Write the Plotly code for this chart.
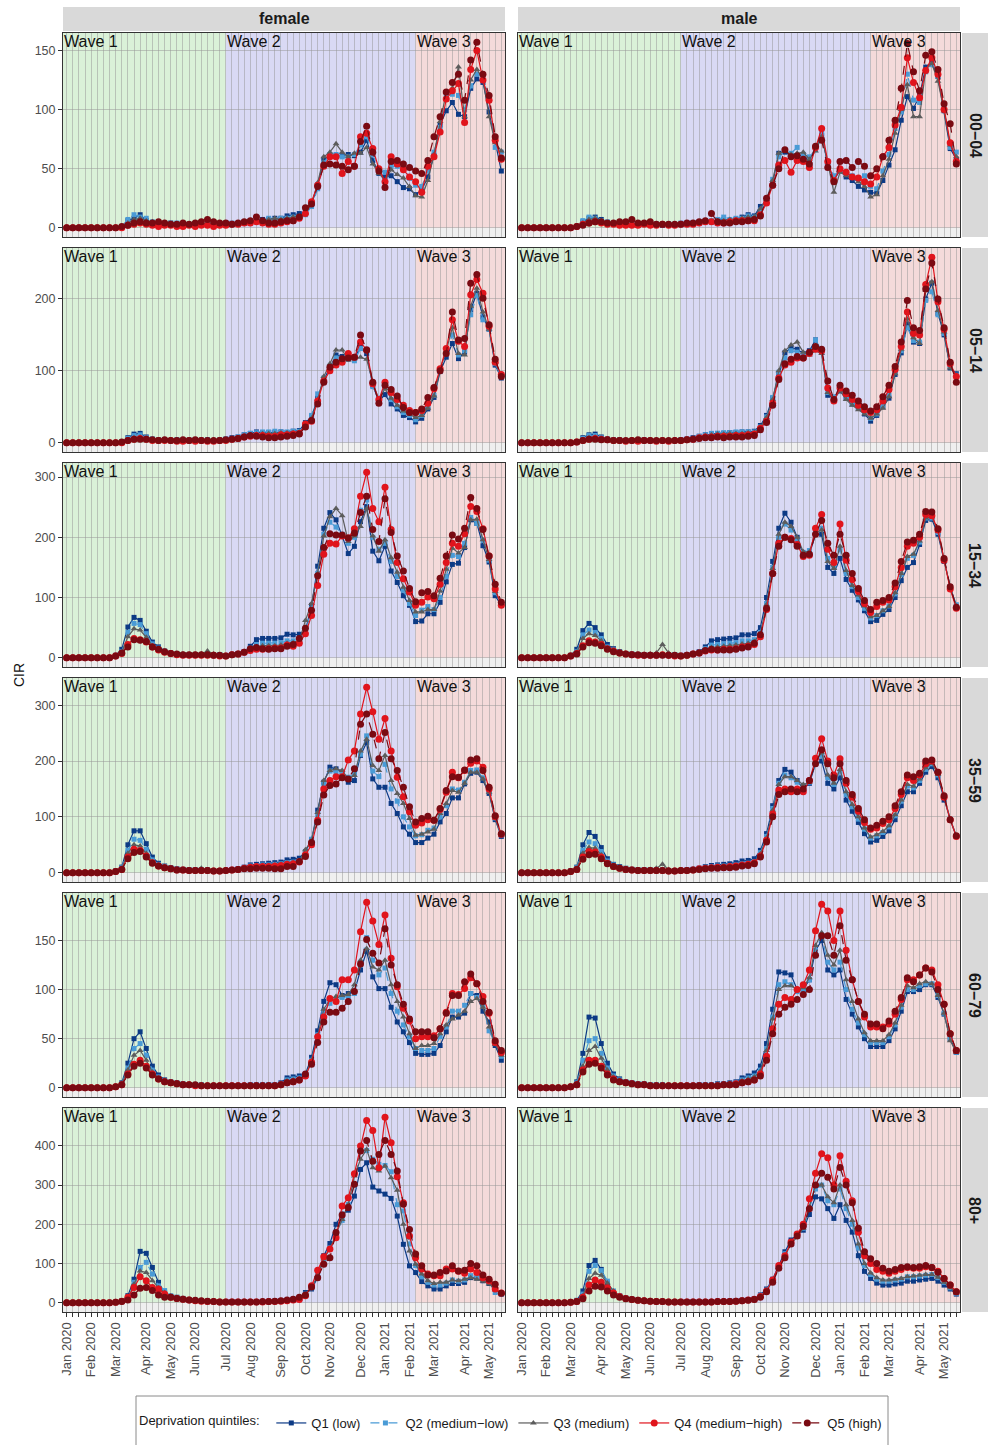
import pandas as pd
import plotly.graph_objects as go

W, H = 990, 1445

# ---------------- categories ----------------
weeks = pd.date_range("2020-01-06", periods=72, freq="7D")
sexes = ["female", "male"]
age_groups = ["00−04", "05−14", "15−34", "35−59", "60−79", "80+"]
quintiles = ["Q1 (low)", "Q2 (medium−low)", "Q3 (medium)", "Q4 (medium−high)", "Q5 (high)"]
wave_labels = ["Wave 1", "Wave 2", "Wave 3"]
wave_starts = ["2020-07-06", "2021-02-08"]
y_dticks = [50, 100, 100, 100, 50, 100]

# ---------------- values (CIR per week) ----------------
# female 00-04
f0004_q1 = [0,0,0,0,0,0,0,0,0,1,6,8, 11,6,4,3,3,4,3,3,2,3,4,3, 3,3,4,3,3,4,5,6,7,7,8,8, 10,11,12,13,20,36,58,61,61,61,62,61, 64,74,57,46,43,44,39,34,33,28,32,43, 61,87,99,106,96,94,118,126,123,98,74,48]
f0004_q2 = [0,0,0,0,0,0,0,0,0,1,7,11, 9,8,5,4,3,3,4,2,3,3,3,4, 4,3,3,4,3,5,6,7,6,8,7,8, 8,9,9,11,18,33,55,62,62,60,60,62, 70,77,62,48,47,52,52,51,42,36,35,48, 64,85,112,113,112,100,120,130,128,108,68,64]
f0004_q3 = [0,0,0,0,0,0,0,0,0,1,4,7, 8,6,5,3,4,3,3,3,2,4,3,3, 3,3,4,3,4,3,5,5,6,7,8,7, 8,9,10,12,20,38,60,64,71,64,60,63, 63,68,54,46,40,49,45,42,35,27,26,40, 62,90,115,118,136,94,125,134,126,94,72,65]
f0004_q4 = [0,0,0,0,0,0,0,0,0,0,2,3, 4,3,2,1,2,2,1,1,2,1,2,2, 1,2,2,3,3,4,4,5,4,3,3,4, 5,6,8,12,22,36,52,60,60,46,56,52, 77,80,67,50,39,60,54,49,43,39,30,52, 60,81,109,116,122,89,134,150,125,108,74,58]
f0004_q5 = [0,0,0,0,0,0,0,0,0,1,2,4, 5,4,4,5,4,3,3,4,3,4,5,7, 5,4,4,3,4,5,6,9,6,4,4,5, 6,6,9,17,20,35,53,54,53,52,49,52, 73,86,64,48,34,56,57,54,51,48,46,57, 77,94,115,123,130,108,142,157,130,112,77,59]
# male 00-04
m0004_q1 = [0,0,0,0,0,0,0,0,0,1,5,8, 9,7,4,3,3,3,3,2,3,3,3,2, 3,2,3,3,4,4,5,5,6,7,6,7, 9,11,10,18,23,38,63,64,61,61,61,57, 68,78,54,40,49,43,40,35,32,30,29,40, 53,66,91,111,101,112,136,140,128,99,67,58]
m0004_q2 = [0,0,0,0,0,0,0,0,0,1,6,9, 8,6,5,4,3,3,4,3,3,4,3,3, 3,3,4,4,4,5,5,6,7,9,7,8, 8,10,9,15,22,41,60,66,63,68,62,60, 66,80,56,44,48,47,44,42,44,35,33,48, 62,84,98,130,108,106,132,138,128,104,68,64]
m0004_q3 = [0,0,0,0,0,0,0,0,0,1,4,7, 8,6,4,3,3,3,3,3,2,3,3,3, 3,3,3,4,4,4,5,5,6,6,7,7, 8,9,9,16,24,40,63,65,62,63,64,58, 65,77,55,30,47,44,42,39,35,26,28,44, 58,80,100,121,94,94,134,139,124,99,70,60]
m0004_q4 = [0,0,0,0,0,0,0,0,0,1,3,4, 5,4,3,3,2,2,2,2,3,2,2,3, 2,2,3,3,3,4,5,5,4,4,5,6, 6,6,6,11,21,36,53,57,47,57,56,51, 68,84,56,40,50,47,43,42,39,37,43,60, 68,87,102,144,123,110,133,144,130,100,72,56]
m0004_q5 = [0,0,0,0,0,0,0,0,0,1,2,4, 5,5,4,4,5,5,7,4,4,5,3,3, 3,3,3,4,4,5,6,12,5,4,4,5, 5,6,7,10,25,36,50,66,60,61,58,54, 69,74,51,39,56,57,51,56,52,44,50,60, 74,91,118,156,132,116,146,149,134,105,88,54]
# female 05-14
f0514_q1 = [0,0,0,0,0,0,0,0,0,1,7,12, 13,8,5,4,4,3,4,3,3,4,3,4, 3,4,5,7,8,11,13,15,14,14,14,15, 14,16,17,28,36,62,88,104,122,120,117,118, 133,124,80,58,67,54,47,38,35,29,34,47, 63,99,119,138,117,126,185,208,175,158,108,90]
f0514_q2 = [0,0,0,0,0,0,0,0,0,1,6,10, 11,7,5,4,4,3,3,3,4,3,4,3, 3,3,5,6,8,11,13,14,15,15,16,15, 15,16,16,24,38,68,90,106,118,116,116,114, 131,130,78,62,78,60,50,42,38,32,38,50, 66,100,124,150,122,128,178,205,171,158,110,92]
f0514_q3 = [0,0,0,0,0,0,0,0,0,1,4,7, 8,6,4,3,3,3,3,3,2,3,4,3, 3,4,4,6,7,9,11,12,13,13,13,14, 14,14,15,22,34,60,92,110,129,129,115,117, 119,116,84,60,75,62,52,44,40,35,38,48, 65,102,128,160,124,122,190,215,182,158,112,94]
f0514_q4 = [0,0,0,0,0,0,0,0,0,0,3,5, 6,5,3,3,3,3,2,2,3,2,3,2, 2,3,3,5,6,8,9,10,10,9,9,11, 11,12,13,26,30,58,86,100,108,112,124,119, 140,129,82,60,84,70,60,52,45,42,45,55, 75,103,131,171,141,134,206,227,208,162,112,95]
f0514_q5 = [0,0,0,0,0,0,0,0,0,1,3,5, 5,5,4,3,4,3,3,4,3,4,3,3, 3,3,4,5,6,8,10,9,8,7,7,8, 9,10,12,22,31,54,84,105,112,117,118,119, 150,129,84,55,80,74,65,49,42,42,47,63, 77,100,124,182,143,145,222,234,201,164,116,92]
# male 05-14
m0514_q1 = [0,0,0,0,0,0,0,0,0,1,7,11, 12,8,5,4,4,3,3,3,4,3,3,3, 3,3,4,5,7,9,11,12,13,13,14,14, 15,15,16,24,38,62,95,125,132,130,124,128, 143,126,66,62,72,62,54,48,40,30,38,50, 62,95,125,165,140,138,200,222,180,150,104,96]
m0514_q2 = [0,0,0,0,0,0,0,0,0,1,6,10, 10,7,5,4,3,3,3,3,3,3,3,3, 3,3,4,5,6,9,11,13,13,14,14,15, 15,15,15,22,36,63,98,118,128,126,122,125, 143,128,70,64,74,64,55,48,42,34,40,52, 66,98,128,160,142,140,198,210,178,152,106,94]
m0514_q3 = [0,0,0,0,0,0,0,0,0,1,4,7, 8,6,4,3,3,3,3,3,2,3,3,3, 3,3,3,4,6,8,10,11,12,12,13,13, 13,14,14,22,35,60,100,128,136,140,126,122, 128,124,70,60,72,60,52,46,40,34,40,48, 64,96,130,172,146,138,212,224,184,154,104,94]
m0514_q4 = [0,0,0,0,0,0,0,0,0,1,3,5, 6,5,4,3,3,2,3,2,3,3,2,3, 2,3,3,4,5,7,8,8,9,9,9,10, 10,11,12,20,30,55,90,108,112,118,118,124, 130,128,76,58,76,68,60,52,46,42,46,58, 74,102,134,182,152,150,220,258,196,158,110,92]
m0514_q5 = [0,0,0,0,0,0,0,0,0,1,3,5, 5,4,4,3,3,3,3,4,3,3,3,3, 3,3,3,4,5,6,7,7,8,7,8,8, 8,9,10,18,28,52,88,110,116,120,118,126, 134,130,86,60,80,72,66,58,50,44,50,64, 80,106,140,198,160,156,214,250,200,160,112,84]
# female 15-34
f1534_q1 = [0,0,0,0,0,0,0,0,4,14,51,67, 62,44,26,18,11,8,6,5,5,5,5,5, 5,5,3,5,7,10,19,30,32,32,32,33, 39,38,39,45,87,152,215,241,229,202,173,185, 226,251,177,161,185,144,125,103,87,60,61,73, 73,92,126,155,157,183,229,223,186,159,103,87]
f1534_q2 = [0,0,0,0,0,0,0,0,3,10,42,57, 55,40,23,16,10,7,6,5,5,5,5,5, 5,5,3,5,7,10,16,22,24,24,24,25, 28,28,30,40,82,140,205,225,217,205,190,200, 245,262,200,180,190,160,135,112,90,70,79,85, 80,100,135,170,168,190,233,223,195,162,108,88]
f1534_q3 = [0,0,0,0,0,0,0,0,3,9,35,48, 46,34,20,14,9,7,6,6,5,5,6,11, 6,4,3,5,7,10,14,18,20,20,20,21, 24,25,28,62,90,140,202,234,248,236,193,202, 218,248,202,177,196,166,142,117,95,76,76,80, 80,111,147,182,174,183,229,230,196,163,110,90]
f1534_q4 = [0,0,0,0,0,0,0,0,3,7,22,32, 30,26,18,13,9,7,5,4,4,4,4,4, 4,3,3,5,6,9,12,14,14,15,16,16, 21,19,24,40,70,120,172,190,189,202,199,214, 268,308,248,226,283,213,158,131,109,87,92,101, 98,122,158,190,185,206,251,243,214,169,114,87]
f1534_q5 = [0,0,0,0,0,0,0,0,3,8,18,30, 29,27,18,14,10,7,6,5,5,5,5,5, 4,4,3,5,6,9,15,17,15,14,15,15, 19,22,32,49,79,136,183,206,204,204,199,207, 241,268,213,193,264,208,169,144,115,93,108,110, 103,132,169,204,197,215,266,248,213,169,122,92]
# male 15-34
m1534_q1 = [0,0,0,0,0,0,0,0,4,14,45,57, 50,38,22,15,10,7,6,5,5,5,5,5, 5,5,4,5,7,10,18,28,30,31,32,33, 38,38,40,50,100,160,215,240,225,200,170,172, 205,205,150,140,165,130,112,96,78,60,62,72, 80,100,128,150,158,188,228,230,205,160,118,85]
m1534_q2 = [0,0,0,0,0,0,0,0,3,10,38,46, 42,32,18,13,9,7,6,5,5,5,5,5, 5,5,3,5,7,9,15,21,22,23,24,25, 28,28,30,42,90,150,200,222,212,196,175,178, 210,215,165,150,180,140,118,100,82,66,70,78, 86,106,138,165,170,192,232,232,208,162,118,88]
m1534_q3 = [0,0,0,0,0,0,0,0,3,9,32,40, 37,28,16,12,8,7,6,5,5,6,8,22, 8,5,3,5,6,9,13,17,18,19,20,21, 23,24,27,40,88,148,205,225,218,200,176,176, 208,212,160,148,185,145,120,104,86,68,70,78, 85,108,140,168,172,194,232,234,210,160,116,86]
m1534_q4 = [0,0,0,0,0,0,0,0,3,7,20,28, 26,22,15,11,8,6,5,4,4,4,4,5, 4,3,3,4,6,8,11,13,13,14,14,15, 18,19,22,35,80,140,190,200,198,188,168,170, 215,238,180,158,222,162,130,110,90,75,85,92, 96,118,150,185,190,200,238,236,212,162,114,82]
m1534_q5 = [0,0,0,0,0,0,0,0,3,6,18,25, 24,20,14,10,8,6,5,5,4,4,4,4, 4,4,3,4,6,8,12,14,13,13,13,14, 16,18,24,38,82,140,185,200,196,185,170,172, 205,228,190,170,205,170,140,115,95,80,92,95, 100,124,160,192,195,205,243,242,214,165,118,84]
# female 35-59
f3559_q1 = [0,0,0,0,0,0,0,0,3,10,50,75, 75,52,28,17,12,9,7,6,5,5,5,5, 4,4,4,5,7,10,14,15,16,17,18,19, 23,24,26,38,59,112,162,189,186,180,162,165, 210,233,168,153,153,124,106,82,69,54,54,62, 69,91,106,134,134,159,178,180,165,142,95,65]
f3559_q2 = [0,0,0,0,0,0,0,0,3,9,40,60, 58,42,23,15,11,8,6,5,5,5,5,5, 4,4,4,5,7,9,12,13,14,14,15,16, 18,19,22,37,60,105,158,182,180,178,171,176, 212,245,182,172,194,150,128,100,82,66,68,76, 80,100,120,150,148,162,183,184,170,146,98,68]
f3559_q3 = [0,0,0,0,0,0,0,0,3,8,35,50, 48,35,20,13,10,8,6,5,5,5,8,5, 4,4,4,5,6,8,11,12,13,13,14,15, 17,18,21,41,58,108,165,183,186,183,168,174, 218,239,192,183,210,165,142,124,97,67,69,73, 78,106,124,147,144,160,180,180,168,144,98,67]
f3559_q4 = [0,0,0,0,0,0,0,0,2,6,28,42, 40,30,18,12,9,7,5,5,4,4,4,4, 3,3,4,5,6,8,10,11,11,11,12,13, 15,16,19,32,50,94,150,165,172,172,202,218, 284,332,288,239,276,218,171,136,109,85,89,95, 94,113,144,180,170,183,196,200,189,150,100,69]
f3559_q5 = [0,0,0,0,0,0,0,0,2,6,25,36, 38,28,17,12,9,7,5,5,4,4,4,4, 3,3,4,5,6,7,7,8,8,8,7,7, 11,11,20,29,54,91,139,156,159,170,168,186, 266,284,248,204,251,204,183,153,118,91,97,101, 94,115,147,172,171,184,202,204,183,153,102,70]
# male 35-59
m3559_q1 = [0,0,0,0,0,0,0,0,3,10,50,72, 65,45,25,15,11,8,6,5,5,5,5,5, 4,4,4,5,6,8,11,13,14,15,16,18, 21,22,25,40,70,120,165,185,180,165,150,160, 195,200,160,150,170,130,110,90,70,55,58,65, 75,95,120,145,145,160,180,190,170,130,95,65]
m3559_q2 = [0,0,0,0,0,0,0,0,3,9,40,55, 52,38,21,14,10,7,6,5,5,5,5,5, 4,4,4,5,6,8,10,11,12,12,13,14, 16,17,20,36,65,115,160,175,170,162,155,162, 200,210,170,158,180,140,118,96,78,62,66,72, 82,102,128,155,152,165,185,195,175,135,96,66]
m3559_q3 = [0,0,0,0,0,0,0,0,3,8,35,45, 44,32,18,12,9,7,6,5,5,6,8,15, 6,4,4,5,6,7,9,10,11,12,12,13, 15,16,19,34,62,112,158,172,172,165,158,162, 200,215,175,160,185,145,122,100,80,64,68,74, 84,104,130,158,155,168,188,196,176,136,96,66]
m3559_q4 = [0,0,0,0,0,0,0,0,2,6,28,38, 37,28,17,11,8,6,5,4,4,4,4,4, 3,3,4,4,5,7,8,9,10,10,11,12, 14,15,18,30,58,105,148,150,145,150,145,165, 205,240,200,175,204,160,135,110,90,78,80,88, 95,115,140,170,165,175,195,200,180,135,95,65]
m3559_q5 = [0,0,0,0,0,0,0,0,2,6,24,32, 33,25,16,11,8,6,5,4,4,4,4,4, 3,3,4,4,5,6,7,8,8,9,9,10, 12,13,16,28,55,100,140,145,150,145,150,165, 195,220,195,170,195,165,140,115,95,80,85,92, 100,120,145,175,172,178,200,202,180,138,95,66]
# female 60-79
f6079_q1 = [0,0,0,0,0,0,0,0,1,5,25,50, 57,40,22,13,8,6,5,4,3,3,3,2, 2,2,2,2,2,2,3,3,3,3,3,5, 10,11,12,14,31,58,88,107,105,94,96,98, 120,139,113,101,101,82,67,57,46,35,34,34, 35,43,57,72,72,76,96,94,78,67,43,28]
f6079_q2 = [0,0,0,0,0,0,0,0,1,4,20,40, 45,33,18,11,7,5,4,3,3,3,3,2, 2,2,2,2,2,2,3,3,3,3,3,4, 8,9,10,12,28,54,78,86,90,92,93,96, 125,153,130,115,122,96,78,64,52,40,38,38, 40,52,62,78,78,84,96,92,84,58,45,32]
f6079_q3 = [0,0,0,0,0,0,0,0,1,4,18,33, 38,28,16,10,7,5,4,3,3,3,3,2, 2,2,2,2,2,2,2,3,3,3,3,4, 7,8,9,12,28,53,80,90,93,94,95,105, 130,142,123,120,130,105,88,72,55,40,43,43, 45,55,64,70,74,78,88,91,82,62,44,33]
f6079_q4 = [0,0,0,0,0,0,0,0,1,3,14,24, 28,22,14,9,6,5,4,3,3,2,2,2, 2,2,2,2,2,2,2,2,2,2,2,3, 5,6,8,12,26,52,72,91,88,110,110,120, 159,189,170,146,176,132,103,81,68,50,52,52, 53,60,77,96,95,101,112,106,93,76,46,36]
f6079_q5 = [0,0,0,0,0,0,0,0,1,3,13,22, 25,20,13,9,6,5,4,3,3,3,2,2, 2,2,2,2,2,2,2,2,2,2,2,3, 5,6,8,14,24,46,67,77,77,81,88,98, 126,151,137,127,162,125,105,85,70,57,57,57, 51,60,76,94,94,108,116,106,88,77,48,38]
# male 60-79
m6079_q1 = [0,0,0,0,0,0,0,0,1,6,35,72, 71,45,25,14,9,6,5,4,4,3,3,3, 2,2,2,2,2,3,3,3,4,4,5,6, 10,12,15,22,45,80,118,117,115,100,100,110, 140,150,120,115,120,90,75,62,50,42,42,42, 48,60,78,98,98,100,105,105,92,75,50,36]
m6079_q2 = [0,0,0,0,0,0,0,0,1,5,28,48, 50,35,20,12,8,6,5,4,3,3,3,3, 2,2,2,2,2,2,3,3,3,4,4,5, 8,10,12,18,40,72,105,108,105,98,100,110, 140,155,128,120,128,100,80,66,54,46,46,46, 52,64,82,100,100,104,106,106,94,76,50,36]
m6079_q3 = [0,0,0,0,0,0,0,0,1,4,22,38, 42,30,18,11,7,5,4,4,3,3,3,3, 2,2,2,2,2,2,2,3,3,3,4,4, 7,9,11,17,38,70,100,104,104,100,102,112, 145,158,135,125,140,110,88,70,56,48,48,48, 54,66,84,104,102,106,108,106,94,76,48,36]
m6079_q4 = [0,0,0,0,0,0,0,0,1,3,18,28, 28,22,14,9,6,5,4,3,3,2,2,2, 2,2,2,2,2,2,2,2,2,3,3,4, 5,6,8,14,32,60,85,92,90,100,105,120, 160,187,180,150,180,140,110,88,72,62,62,62, 65,75,90,110,110,115,122,120,105,85,55,38]
m6079_q5 = [0,0,0,0,0,0,0,0,1,3,16,24, 25,20,13,8,6,5,4,3,3,2,2,2, 2,2,2,2,2,2,2,2,2,3,3,3, 5,6,8,12,28,55,75,82,85,90,95,100, 135,155,155,135,165,130,110,88,75,65,65,60, 68,78,92,112,108,115,122,118,100,85,55,38]
# female 80+
f80_q1 = [0,0,0,0,0,0,0,0,1,5,18,60, 131,126,90,52,26,16,14,11,7,6,5,4, 3,2,2,2,2,2,2,2,3,3,4,5, 6,9,9,26,35,64,120,151,200,226,236,272, 340,357,295,285,277,266,221,149,94,77,54,43, 35,35,43,49,49,52,64,63,56,49,35,22]
f80_q2 = [0,0,0,0,0,0,0,0,1,4,12,52, 90,103,73,43,31,18,13,10,7,6,5,4, 3,2,2,2,2,2,2,2,3,3,4,5, 6,8,10,22,38,70,110,140,170,210,251,300, 388,388,366,353,350,334,250,234,150,95,66,52, 45,45,50,58,55,58,69,66,60,52,26,22]
f80_q3 = [0,0,0,0,0,0,0,0,1,3,10,47, 81,77,56,38,26,17,13,10,7,6,5,4, 3,2,2,2,2,2,2,2,3,3,3,4, 5,7,9,20,38,70,112,138,175,212,250,323, 366,391,344,336,349,319,287,200,132,98,73,56, 49,52,52,58,56,60,64,60,55,48,33,24]
f80_q4 = [0,0,0,0,0,0,0,0,1,4,14,39, 66,56,39,35,22,14,11,9,7,5,4,3, 3,2,2,2,2,2,2,2,2,3,3,4, 5,7,8,18,43,83,117,137,166,247,268,329, 400,465,439,344,473,408,321,255,170,115,86,73, 69,69,86,86,80,75,86,77,64,56,35,25]
f80_q5 = [0,0,0,0,0,0,0,0,1,3,7,20, 37,39,31,20,14,14,11,9,7,6,5,4, 3,2,2,2,2,2,2,2,3,3,4,5, 7,9,14,20,40,64,98,115,179,224,243,302, 387,414,361,378,414,378,336,251,187,124,94,71, 71,77,81,94,81,83,100,94,71,60,47,24]
# male 80+
m80_q1 = [0,0,0,0,0,0,0,0,1,6,30,95, 108,85,50,28,18,12,9,7,5,4,3,3, 2,2,2,2,2,2,2,3,3,3,4,5, 6,8,10,20,35,60,95,130,160,175,185,225, 270,265,240,215,250,210,180,120,80,62,50,45, 45,48,50,55,55,58,60,62,55,45,35,22]
m80_q2 = [0,0,0,0,0,0,0,0,1,5,22,80, 95,82,55,30,18,12,9,7,5,4,3,3, 2,2,2,2,2,2,2,3,3,3,4,5, 6,8,10,18,32,58,92,125,155,172,190,240, 290,300,260,250,290,240,200,140,95,72,60,55, 55,58,60,66,66,68,70,72,64,52,38,24]
m80_q3 = [0,0,0,0,0,0,0,0,1,4,18,62, 75,70,50,30,18,12,9,7,5,4,3,3, 2,2,2,2,2,2,2,3,3,3,3,4, 5,7,9,16,30,55,90,120,150,168,190,245, 300,300,270,255,300,250,210,150,100,76,64,58, 58,60,62,66,68,70,72,72,65,52,38,25]
m80_q4 = [0,0,0,0,0,0,0,0,1,3,14,45, 58,52,38,25,16,11,8,6,5,4,3,3, 2,2,2,2,2,2,2,2,3,3,3,4, 5,7,9,16,30,58,95,120,155,175,200,265, 330,380,370,300,375,310,260,180,120,100,85,80, 75,80,85,90,88,88,92,90,80,62,45,28]
m80_q5 = [0,0,0,0,0,0,0,0,1,3,10,30, 42,40,30,20,14,10,8,6,5,4,3,3, 2,2,2,2,2,2,2,2,3,3,3,4, 5,6,8,14,28,52,88,115,150,170,195,240, 300,330,320,290,345,300,255,190,130,112,100,88, 80,85,90,92,90,92,95,90,78,62,45,28]

panel_data = {
    ("female", 0): [f0004_q1, f0004_q2, f0004_q3, f0004_q4, f0004_q5],
    ("male", 0): [m0004_q1, m0004_q2, m0004_q3, m0004_q4, m0004_q5],
    ("female", 1): [f0514_q1, f0514_q2, f0514_q3, f0514_q4, f0514_q5],
    ("male", 1): [m0514_q1, m0514_q2, m0514_q3, m0514_q4, m0514_q5],
    ("female", 2): [f1534_q1, f1534_q2, f1534_q3, f1534_q4, f1534_q5],
    ("male", 2): [m1534_q1, m1534_q2, m1534_q3, m1534_q4, m1534_q5],
    ("female", 3): [f3559_q1, f3559_q2, f3559_q3, f3559_q4, f3559_q5],
    ("male", 3): [m3559_q1, m3559_q2, m3559_q3, m3559_q4, m3559_q5],
    ("female", 4): [f6079_q1, f6079_q2, f6079_q3, f6079_q4, f6079_q5],
    ("male", 4): [m6079_q1, m6079_q2, m6079_q3, m6079_q4, m6079_q5],
    ("female", 5): [f80_q1, f80_q2, f80_q3, f80_q4, f80_q5],
    ("male", 5): [m80_q1, m80_q2, m80_q3, m80_q4, m80_q5],
}

# ---------------- styles ----------------
FONT = "Liberation Sans, Arial, Helvetica, sans-serif"
q_colors = ["#0c3a85", "#4a9bd6", "#5c5c5c", "#e0141c", "#7a0a12"]
q_symbols = ["square", "square", "triangle-up", "circle", "circle"]
q_sizes = [5, 5, 6, 7, 7]
q_dash = ["solid", "dash", "solid", "solid", "dash"]
wave_fills = ["#daf1d8", "#d9d9f4", "#f4dada"]
below_fill = "#efefef"
grid_col = "rgba(150,150,150,0.5)"
strip_fill = "#d9d9d9"

col_px = [(63, 505), (518, 960)]
row_px = [(33, 237), (248, 452), (463, 667), (678, 882), (893, 1097), (1108, 1312)]

x_lo = weeks[0] - pd.Timedelta(days=4.2)
x_hi = weeks[-1] + pd.Timedelta(days=4.2)
tick_text = [d.strftime("%b %Y") if i == 0 or d.month != weeks[i - 1].month else "" for i, d in enumerate(weeks)]

fig = go.Figure()
layout = {}
shapes = []
annotations = []

for r in range(6):
    row_max = max(max(s) for sx in sexes for s in panel_data[(sx, r)])
    y_range = [-0.05 * row_max, 1.05 * row_max]
    for c, sx in enumerate(sexes):
        k = r * 2 + c + 1
        sfx = "" if k == 1 else str(k)
        xa, ya = "x" + sfx, "y" + sfx
        for q in range(5):
            fig.add_trace(go.Scatter(
                x=weeks, y=panel_data[(sx, r)][q], xaxis=xa, yaxis=ya,
                mode="lines+markers", name=quintiles[q], legendgroup=quintiles[q],
                showlegend=(k == 1),
                line=dict(color=q_colors[q], width=1.2, dash=q_dash[q]),
                marker=dict(color=q_colors[q], symbol=q_symbols[q], size=q_sizes[q], line=dict(width=0)),
            ))
        x0, x1 = col_px[c]
        y0, y1 = row_px[r]
        bottom = (r == 5)
        layout["xaxis" + sfx] = dict(
            domain=[x0 / W, x1 / W], anchor=ya, type="date", range=[x_lo, x_hi],
            tickmode="array", tickvals=list(weeks), ticktext=tick_text,
            showgrid=True, gridcolor=grid_col, gridwidth=1, zeroline=False,
            showline=True, mirror=True, linecolor="#333333", linewidth=1,
            ticks="outside" if bottom else "", ticklen=4, tickcolor="#333333",
            showticklabels=bottom, tickangle=-90,
            tickfont=dict(size=13, color="#4d4d4d", family=FONT), automargin=False,
        )
        layout["yaxis" + sfx] = dict(
            domain=[1 - y1 / H, 1 - y0 / H], anchor=xa, range=y_range,
            tickmode="linear", tick0=0, dtick=y_dticks[r],
            showgrid=True, gridcolor=grid_col, gridwidth=1, zeroline=False,
            showline=True, mirror=True, linecolor="#333333", linewidth=1,
            ticks="outside" if c == 0 else "", ticklen=4, tickcolor="#333333",
            showticklabels=(c == 0),
            tickfont=dict(size=12.5, color="#4d4d4d", family=FONT), automargin=False,
        )
        shapes.append(dict(type="rect", xref=xa, yref=ya, x0=x_lo, x1=x_hi, y0=y_range[0], y1=0,
                           fillcolor=below_fill, line=dict(width=0), layer="below"))
        bounds = [x_lo] + [pd.Timestamp(w) for w in wave_starts] + [x_hi]
        for wv in range(3):
            shapes.append(dict(type="rect", xref=xa, yref=ya, x0=bounds[wv], x1=bounds[wv + 1],
                               y0=0, y1=y_range[1], fillcolor=wave_fills[wv], line=dict(width=0), layer="below"))
            annotations.append(dict(x=bounds[wv], y=y_range[1], xref=xa, yref=ya, text=wave_labels[wv],
                                    showarrow=False, xanchor="left", yanchor="top", xshift=-1, yshift=2,
                                    font=dict(size=16, color="#111111", family=FONT)))

# facet strips
for c, sx in enumerate(sexes):
    x0, x1 = col_px[c]
    shapes.append(dict(type="rect", xref="paper", yref="paper", x0=x0 / W, x1=x1 / W,
                       y0=1 - 31 / H, y1=1 - 7 / H, fillcolor=strip_fill, line=dict(width=0)))
    annotations.append(dict(x=(x0 + x1) / 2 / W, y=1 - 19 / H, xref="paper", yref="paper",
                            xanchor="center", yanchor="middle", text="<b>%s</b>" % sx,
                            showarrow=False, font=dict(size=16, color="#1a1a1a", family=FONT)))
for r, ag in enumerate(age_groups):
    y0, y1 = row_px[r]
    shapes.append(dict(type="rect", xref="paper", yref="paper", x0=962 / W, x1=988 / W,
                       y0=1 - y1 / H, y1=1 - y0 / H, fillcolor=strip_fill, line=dict(width=0)))
    annotations.append(dict(x=975 / W, y=1 - (y0 + y1) / 2 / H, xref="paper", yref="paper",
                            xanchor="center", yanchor="middle", text="<b>%s</b>" % ag,
                            showarrow=False, textangle=90, font=dict(size=16, color="#1a1a1a", family=FONT)))

annotations.append(dict(x=19 / W, y=1 - 675 / H, xref="paper", yref="paper", text="CIR", showarrow=False,
                        xanchor="center", yanchor="middle",
                        textangle=-90, font=dict(size=14, color="#111111", family=FONT)))

# legend frame
shapes.append(dict(type="rect", xref="paper", yref="paper", x0=136 / W, x1=888 / W,
                   y0=1 - 1446 / H, y1=1 - 1396 / H, fillcolor="white",
                   line=dict(color="#8a8a8a", width=1)))

fig.update_layout(
    width=W, height=H, margin=dict(l=0, r=0, t=0, b=0, pad=0), template="none",
    paper_bgcolor="white", plot_bgcolor="rgba(0,0,0,0)",
    font=dict(family=FONT, color="#1a1a1a"),
    shapes=shapes, annotations=annotations,
    legend=dict(orientation="h", x=512 / W, xanchor="center", y=1 - 1423 / H, yanchor="middle",
                borderwidth=0, bgcolor="rgba(0,0,0,0)",
                title=dict(text="Deprivation quintiles: ", side="left", font=dict(size=13, family=FONT)),
                font=dict(size=13, color="#1a1a1a", family=FONT), itemwidth=30),
    **layout,
)

fig.write_html("out.html", config={"displayModeBar": False},
               post_script="document.body.style.margin='0px';document.body.style.padding='0px';")
